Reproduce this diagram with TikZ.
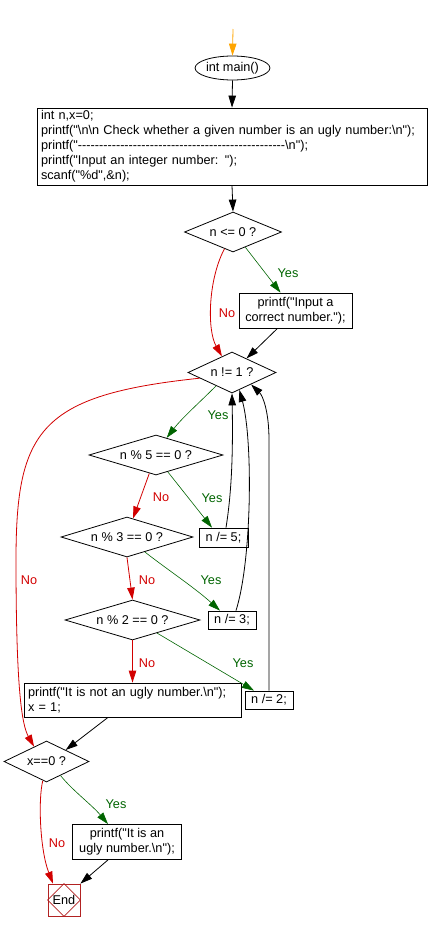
\documentclass[tikz,border=0pt]{standalone}
\usepackage{fontspec}
\newfontfamily\arialf{Liberation Sans}
\usetikzlibrary{shapes.geometric,arrows.meta,calc}
\definecolor{nored}{RGB}{210,0,0}
\definecolor{yesgreen}{RGB}{0,100,0}
\definecolor{endred}{RGB}{178,34,34}
\definecolor{startorange}{RGB}{255,165,0}
\begin{document}
\begin{tikzpicture}[x=1pt,y=-1pt,
  font=\arialf\fontsize{12.7}{15}\selectfont,
  line width=0.8pt,
  tip/.style={-{Triangle[length=12pt,width=7.5pt]}},
  flow/.style={draw=black,tip},
  yesflow/.style={draw=yesgreen,line width=0.6pt,tip},
  noflow/.style={draw=nored,tip},
  startflow/.style={draw=startorange,tip},
  procbox/.style={draw,rectangle,inner sep=0pt,align=center},
  decision/.style={draw,diamond,inner sep=0pt,aspect=3.5},
  termnode/.style={draw,ellipse,inner sep=0pt},
  ylabel/.style={text=yesgreen,inner sep=0pt},
  nlabel/.style={text=nored,inner sep=0pt}]
\useasboundingbox (0,0) rectangle (429,932);

% nodes
\coordinate (s) at (233,29);
\node[termnode,minimum width=71pt,minimum height=24pt] (main) at (232.5,68) {int main()};
\node[procbox,align=left,text width=382pt,inner xsep=4pt,minimum height=77pt] (b1) at (232,146.5)
 {int n,x=0;\\
  printf("\textbackslash n\textbackslash n Check whether a given number is an ugly number:\textbackslash n");\\
  printf("-{}-{}-{}-{}-{}-{}-{}-{}-{}-{}-{}-{}-{}-{}-{}-{}-{}-{}-{}-{}-{}-{}-{}-{}-{}-{}-{}-{}-{}-{}-{}-{}-{}-{}-{}-{}-{}-{}-{}-{}-{}-{}-{}-{}-{}-{}-{}-{}-{}\textbackslash n");\\
  printf("Input an integer number: ");\\
  scanf("\%d",\&n);};
\node[decision,minimum width=97pt,minimum height=40pt] (d1) at (233,232) {n <= 0 ?};
\node[procbox,minimum width=113pt,minimum height=35pt] (b2) at (295.5,310.5) {printf("Input a\\correct number.");};
\node[decision,minimum width=88pt,minimum height=41pt] (d2) at (232,372.5) {n != 1 ?};
\node[decision,minimum width=134pt,minimum height=40pt] (d3) at (156,455) {n \% 5 == 0 ?};
\node[procbox,minimum width=49pt,minimum height=19pt] (b5) at (223.5,537.5) {n /= 5;};
\node[decision,minimum width=132pt,minimum height=40pt] (d4) at (127,537) {n \% 3 == 0 ?};
\node[procbox,minimum width=48pt,minimum height=18pt] (b6) at (232,620) {n /= 3;};
\node[decision,minimum width=135pt,minimum height=40pt] (d5) at (132.5,620) {n \% 2 == 0 ?};
\node[procbox,minimum width=48pt,minimum height=18pt] (b7) at (269,700) {n /= 2;};
\node[procbox,align=left,text width=209pt,inner xsep=4pt,minimum height=34pt] (b8) at (132.5,700)
 {printf("It is not an ugly number.\textbackslash n");\\x = 1;};
\node[decision,minimum width=85pt,minimum height=41pt] (d6) at (46.5,761.5) {x==0 ?};
\node[procbox,minimum width=109pt,minimum height=35pt] (b9) at (127,842) {printf("It is an\\ugly number.\textbackslash n");};
\node[draw=endred,rectangle,minimum size=32pt,inner sep=0pt] (end) at (64,900) {};
\draw[endred] (end.north) -- (end.east) -- (end.south) -- (end.west) -- cycle;
\node[inner sep=0pt] at (end.center) {End};

% connectors
\draw[startflow] (s) -- (main.north);
\draw[flow] (main.south) -- (b1.north);
\draw[flow] (b1.south) -- (d1.north);
\draw[yesflow] (d1.-51) -- ($(b2.north)+(-15,0)$);
\draw[noflow] (d1.-117) .. controls (208,280) and (207,330) .. (d2.122);
\draw[flow] ($(b2.south)+(-18,0)$) -- (d2.44);
\draw[yesflow] (d2.-140) .. controls (200,402) and (182,418) .. (d3.58);
\draw[noflow] (d2.-170) .. controls (40,395) and (16,430) .. (16,560) .. controls (16,690) and (22,725) .. (d6.130);
\draw[yesflow] (d3.-55) -- ($(b5.north)+(-11.5,0)$);
\draw[noflow] (d3.-110) -- (d4.72);
\draw[flow] ($(b5.north)+(2.5,0)$) .. controls (232,490) and (233,450) .. (d2.south);
\draw[yesflow] (d4.-40) .. controls (168,570) and (195,588) .. ($(b6.north)+(-12,0)$);
\draw[noflow] (d4.south) -- (d5.north);
\draw[flow] ($(b6.north)+(4,0)$) .. controls (252,560) and (253,440) .. (d2.-67);
\draw[yesflow] (d5.-28) -- ($(b7.north)+(-15,0)$);
\draw[noflow] (d5.south) -- (b8.north);
\draw[flow] (b7.north) -- (269,440) .. controls (269,412) and (263,396) .. (d2.-32);
\draw[flow] ($(b8.south)+(-24.5,0)$) -- (d6.31);
\draw[yesflow] (d6.-45) .. controls (72,790) and (92,805) .. ($(b9.north)+(-19,0)$);
\draw[noflow] (d6.-101) .. controls (38,800) and (40,850) .. ($(end.north)+(-11,0)$);
\draw[flow] ($(b9.south)+(-19,0)$) -- (end.north east);

% labels
\node[ylabel] at (288,273) {Yes};
\node[nlabel] at (227,313) {No};
\node[ylabel] at (218,415) {Yes};
\node[nlabel] at (29,580) {No};
\node[nlabel] at (161,497) {No};
\node[ylabel] at (212,498) {Yes};
\node[nlabel] at (147,580) {No};
\node[ylabel] at (211,580) {Yes};
\node[nlabel] at (147,663) {No};
\node[ylabel] at (243,663) {Yes};
\node[ylabel] at (116,804) {Yes};
\node[nlabel] at (57,843) {No};
\end{tikzpicture}
\end{document}
